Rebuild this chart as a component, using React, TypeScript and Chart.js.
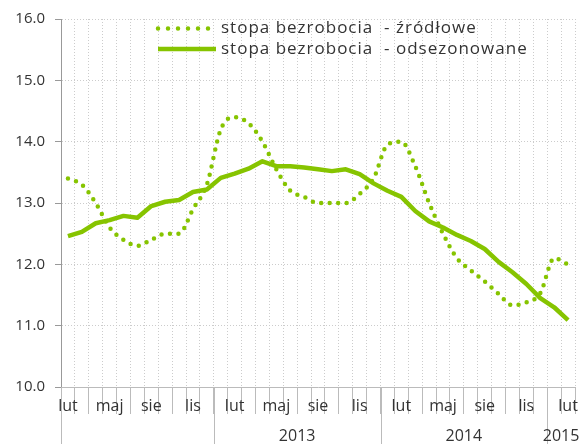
import { useEffect, useRef } from 'react';
import { Chart, registerables } from 'chart.js';

Chart.register(...registerables);

const categories = [
  'lut', 'mar', 'kwi', 'maj', 'cze', 'lip', 'sie', 'wrz', 'paź', 'lis', 'gru',
  'sty', 'lut', 'mar', 'kwi', 'maj', 'cze', 'lip', 'sie', 'wrz', 'paź', 'lis', 'gru',
  'sty', 'lut', 'mar', 'kwi', 'maj', 'cze', 'lip', 'sie', 'wrz', 'paź', 'lis', 'gru',
  'sty', 'lut',
];
const years = [
  2012, 2012, 2012, 2012, 2012, 2012, 2012, 2012, 2012, 2012, 2012,
  2013, 2013, 2013, 2013, 2013, 2013, 2013, 2013, 2013, 2013, 2013, 2013,
  2014, 2014, 2014, 2014, 2014, 2014, 2014, 2014, 2014, 2014, 2014, 2014,
  2015, 2015,
];
const shownMonths = ['lut', 'maj', 'sie', 'lis'];
const yearLabels = ['2013', '2014', '2015'];

const seriesLabels = ['stopa bezrobocia  - źródłowe', 'stopa bezrobocia  - odsezonowane'];

const rawRate = [
  13.4, 13.3, 13.0, 12.6, 12.4, 12.3, 12.4, 12.5, 12.5, 12.9, 13.3,
  14.2, 14.4, 14.3, 14.0, 13.55, 13.2, 13.1, 13.0, 13.0, 13.0, 13.15, 13.4,
  13.95, 14.0, 13.6, 13.0, 12.5, 12.1, 11.9, 11.72, 11.52, 11.33, 11.38, 11.53,
  12.1, 12.0,
];
const adjustedRate = [
  12.46, 12.53, 12.67, 12.72, 12.79, 12.76, 12.95, 13.02, 13.05, 13.18, 13.22,
  13.41, 13.48, 13.56, 13.68, 13.6, 13.6, 13.58, 13.55, 13.52, 13.55, 13.47, 13.32,
  13.2, 13.1, 12.87, 12.7, 12.6, 12.48, 12.38, 12.25, 12.04, 11.87, 11.68, 11.45,
  11.3, 11.09,
];

const yTicks = [10, 11, 12, 13, 14, 15, 16];

const GREEN = '#86c400';
const TEXT = '#333333';
const FONT = '"Open Sans", "DejaVu Sans", sans-serif';

const yearPlugin = {
  id: 'yearRow',
  afterDraw(chart: any) {
    const { ctx, chartArea } = chart;
    const x = chart.scales.x;
    const step = x.getPixelForValue(1) - x.getPixelForValue(0);
    const edge = (i: number) => x.getPixelForValue(i) - step / 2;
    const bounds: number[] = [0];
    for (let i = 1; i < years.length; i++) if (years[i] !== years[i - 1]) bounds.push(i);
    ctx.save();
    ctx.strokeStyle = '#bbbbbb';
    ctx.lineWidth = 1;
    bounds.forEach((b) => {
      const px = Math.round(edge(b)) + 0.5;
      ctx.beginPath();
      ctx.moveTo(px, chartArea.bottom);
      ctx.lineTo(px, chart.height);
      ctx.stroke();
    });
    ctx.fillStyle = TEXT;
    ctx.font = `16px ${FONT}`;
    ctx.textAlign = 'center';
    ctx.textBaseline = 'middle';
    bounds.forEach((b, k) => {
      const end = k + 1 < bounds.length ? bounds[k + 1] : years.length;
      const label = String(years[b]);
      if (!yearLabels.includes(label)) return;
      const cx = (edge(b) + edge(end)) / 2;
      ctx.fillText(label, cx, chart.height - 8);
    });
    ctx.restore();
  },
};

const legendPlugin = {
  id: 'innerLegend',
  afterDraw(chart: any) {
    const { ctx } = chart;
    const x0 = 158;
    const rows = [28.5, 49];
    ctx.save();
    chart.data.datasets.forEach((ds: any, i: number) => {
      const y = rows[i];
      ctx.strokeStyle = ds.borderColor;
      ctx.lineWidth = ds.borderWidth;
      ctx.lineCap = 'round';
      if (ds.borderDash && ds.borderDash.length) {
        ctx.setLineDash([0, 10]);
        ctx.beginPath();
        ctx.moveTo(x0, y);
        ctx.lineTo(x0 + 51, y);
        ctx.stroke();
      } else {
        ctx.setLineDash([]);
        ctx.lineCap = 'butt';
        ctx.beginPath();
        ctx.moveTo(x0, y);
        ctx.lineTo(x0 + 58, y);
        ctx.stroke();
      }
      ctx.setLineDash([]);
      ctx.fillStyle = TEXT;
      ctx.font = `17px ${FONT}`;
      (ctx as any).letterSpacing = '1px';
      ctx.textAlign = 'left';
      ctx.textBaseline = 'middle';
      ctx.fillText(ds.label, 221, y);
      (ctx as any).letterSpacing = '0px';
    });
    ctx.restore();
  },
};

export default function App() {
  const ref = useRef<HTMLCanvasElement | null>(null);
  useEffect(() => {
    if (!ref.current) return;
    const chart = new Chart(ref.current, {
      type: 'line',
      data: {
        labels: categories,
        datasets: [
          {
            label: seriesLabels[0],
            data: rawRate,
            borderColor: GREEN,
            borderWidth: 4.5,
            borderDash: [0, 8.5],
            borderCapStyle: 'round',
            tension: 0.4,
            cubicInterpolationMode: 'monotone',
            pointRadius: 0,
            fill: false,
          },
          {
            label: seriesLabels[1],
            data: adjustedRate,
            borderColor: GREEN,
            borderWidth: 4.5,
            borderJoinStyle: 'round',
            tension: 0,
            pointRadius: 0,
            fill: false,
          },
        ],
      },
      options: {
        responsive: false,
        animation: false,
        events: [],
        layout: { padding: { top: 16, right: 7, left: 0, bottom: 0 } },
        plugins: { legend: { display: false }, tooltip: { enabled: false } },
        scales: {
          x: {
            type: 'category',
            offset: true,
            grid: {
              offset: true,
              color: '#cccccc',
              drawTicks: true,
              tickLength: 27,
              tickColor: '#bbbbbb',
              tickBorderDash: [],
            },
            border: { display: true, color: '#bbbbbb', dash: [1, 2] },
            ticks: {
              autoSkip: false,
              maxRotation: 0,
              minRotation: 0,
              padding: -17.5,
              color: TEXT,
              font: { family: FONT, size: 16 },
              callback: (_v: any, idx: number) =>
                shownMonths.includes(categories[idx]) ? categories[idx] : '',
            },
            afterFit: (scale: any) => {
              scale.height = 57;
            },
          },
          y: {
            min: yTicks[0],
            max: yTicks[yTicks.length - 1],
            grid: {
              color: '#cccccc',
              tickLength: 6,
              tickColor: '#999999',
              tickBorderDash: [],
            },
            border: { display: true, color: '#999999', dash: [1, 2] },
            afterBuildTicks: (scale: any) => {
              scale.ticks = yTicks.map((v) => ({ value: v }));
            },
            ticks: {
              padding: 10,
              color: TEXT,
              font: { family: FONT, size: 15 },
              callback: (v: any) => Number(v).toFixed(1),
            },
            afterFit: (scale: any) => {
              scale.width = 61;
            },
          },
        },
      },
      plugins: [yearPlugin, legendPlugin],
    });
    return () => chart.destroy();
  }, []);
  return (
    <div style={{ position: 'absolute', left: 0, top: 0, width: 582, height: 444, background: '#fff' }}>
      <canvas ref={ref} width={582} height={444} style={{ display: 'block' }} />
    </div>
  );
}
